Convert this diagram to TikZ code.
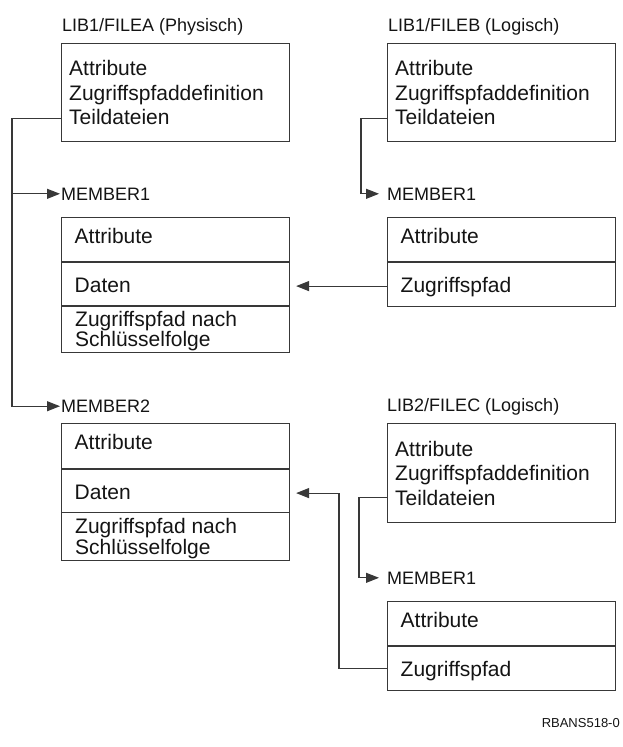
\documentclass[tikz,border=0pt]{standalone}
\usepackage{fontspec}
\setmainfont{Liberation Sans}
\usetikzlibrary{arrows.meta}
\begin{document}
\begin{tikzpicture}[x=1pt,y=-1pt,
  boxframe/.style={draw=black!78, line width=1.1pt, inner sep=0pt, anchor=north west, minimum width=228pt},
  boxtext/.style={font=\fontsize{21}{24}\selectfont, anchor=base west, inner sep=0pt, text=black!92},
  titletext/.style={font=\fontsize{18}{22}\selectfont, anchor=base west, inner sep=0pt, text=black!92},
  conn/.style={draw=black!78, line width=1.1pt},
  arrowend/.style={-{Triangle[length=13pt,width=10pt]}},
  divider/.style={draw=black!78, line width=1.1pt}
]
\useasboundingbox (0,0) rectangle (623,747);

% ---------- LIB1/FILEA ----------
\node[titletext] (tA) at (62,31) {LIB1/FILEA (Physisch)};
\node[boxframe, minimum height=98pt] (fileA) at (61,43) {};
\node[boxtext] (fA1) at (69,75.5) {Attribute};
\node[boxtext] (fA2) at (69,100) {Zugriffspfaddefinition};
\node[boxtext] (fA3) at (69,124.5) {Teildateien};

% ---------- LIB1/FILEB ----------
\node[titletext] (tB) at (388,31) {LIB1/FILEB (Logisch)};
\node[boxframe, minimum height=98pt] (fileB) at (387,43) {};
\node[boxtext] (fB1) at (395,75.5) {Attribute};
\node[boxtext] (fB2) at (395,100) {Zugriffspfaddefinition};
\node[boxtext] (fB3) at (395,124.5) {Teildateien};

% ---------- FILEA / MEMBER1 ----------
\node[titletext] (mA1lab) at (61,200) {MEMBER1};
\node[boxframe, minimum height=135pt] (memA1) at (61,217) {};
\draw[divider] (61,262) -- (289,262);
\draw[divider] (61,306) -- (289,306);
\node[boxtext] (mA1a) at (74.5,243) {Attribute};
\node[boxtext] (mA1b) at (74.5,292) {Daten};
\node[boxtext] (mA1c) at (75,326) {Zugriffspfad nach};
\node[boxtext] (mA1d) at (75,346.5) {Schlüsselfolge};

% ---------- FILEB / MEMBER1 ----------
\node[titletext] (mB1lab) at (387,200) {MEMBER1};
\node[boxframe, minimum height=89pt] (memB1) at (387,217) {};
\draw[divider] (387,262) -- (615,262);
\node[boxtext] (mB1a) at (400.5,243) {Attribute};
\node[boxtext] (mB1b) at (400.5,292) {Zugriffspfad};

% ---------- FILEA / MEMBER2 ----------
\node[titletext] (mA2lab) at (61,412.5) {MEMBER2};
\node[boxframe, minimum height=137pt] (memA2) at (61,423) {};
\draw[divider] (61,469) -- (289,469);
\draw[divider] (61,512.5) -- (289,512.5);
\node[boxtext] (mA2a) at (74.5,449.5) {Attribute};
\node[boxtext] (mA2b) at (74.5,499.5) {Daten};
\node[boxtext] (mA2c) at (75,533.5) {Zugriffspfad nach};
\node[boxtext] (mA2d) at (75,554) {Schlüsselfolge};

% ---------- LIB2/FILEC ----------
\node[titletext] (tC) at (387,411.5) {LIB2/FILEC (Logisch)};
\node[boxframe, minimum height=98.5pt] (fileC) at (387,423.3) {};
\node[boxtext] (fC1) at (395,456.5) {Attribute};
\node[boxtext] (fC2) at (395,480.8) {Zugriffspfaddefinition};
\node[boxtext] (fC3) at (395,505.2) {Teildateien};

% ---------- FILEC / MEMBER1 ----------
\node[titletext] (mC1lab) at (387,584) {MEMBER1};
\node[boxframe, minimum height=89pt] (memC1) at (387,601) {};
\draw[divider] (387,646) -- (615,646);
\node[boxtext] (mC1a) at (400.5,627) {Attribute};
\node[boxtext] (mC1b) at (400.5,676) {Zugriffspfad};

% ---------- figure number ----------
\node[font=\fontsize{13}{15}\selectfont, anchor=base east, inner sep=0pt, text=black!92] (fig) at (620,727) {RBANS518-0};

% ---------- connection points ----------
\coordinate (aOut)  at ([yshift=24pt]fileA.south west);
\coordinate (bOut)  at ([yshift=24pt]fileB.south west);
\coordinate (cOut)  at ([yshift=25pt]fileC.south west);
\coordinate (b1Out) at ([yshift=21pt]memB1.south west);
\coordinate (c1Out) at ([yshift=23pt]memC1.south west);
\coordinate (a1In)  at ([yshift=67pt]memA1.south east);
\coordinate (a2In)  at ([yshift=68pt]memA2.south east);

% ---------- connectors ----------
% FILEA -> MEMBER1, MEMBER2
\draw[conn, arrowend, shorten >=1pt] (aOut) -- ++(-49,0) coordinate (aBend) |- (mA2lab.west);
\draw[conn, arrowend, shorten >=1pt] (aBend |- mA1lab.west) -- (mA1lab.west);
% FILEB -> MEMBER1
\draw[conn, arrowend, shorten >=8pt] (bOut) -- ++(-26,0) |- (mB1lab.west);
% FILEC -> MEMBER1
\draw[conn, arrowend, shorten >=8pt] (cOut) -- ++(-28,0) |- (mC1lab.west);
% logical members -> physical data
\draw[conn, arrowend, shorten >=6pt] (b1Out) -- (a1In);
\draw[conn, arrowend, shorten >=6pt] (c1Out) -- ++(-48,0) |- (a2In);
\end{tikzpicture}
\end{document}
